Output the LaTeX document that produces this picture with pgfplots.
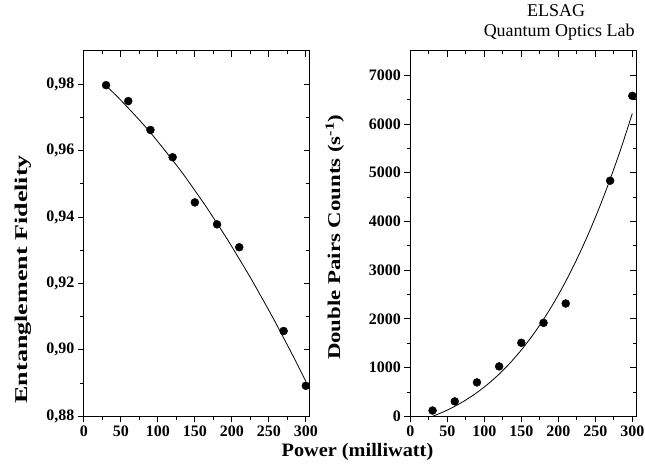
\documentclass[border=0pt]{standalone}
\usepackage{fontspec}
\setmainfont{Liberation Serif}
\usepackage{pgfplots}
\pgfplotsset{compat=1.18}

\pgfplotsset{
  panel/.style={
    scale only axis, width=226pt, height=366pt,
    xmin=0, xmax=305,
    xtick={0,50,...,300}, minor x tick num=1,
    axis line style={line width=1pt},
    every tick/.style={black, line width=0.9pt},
    major tick length=6pt, minor tick length=3.5pt,
    clip=false,
    /pgf/number format/assume math mode=true,
    tick label style={font=\bfseries\fontsize{16}{17}\selectfont},
    label style={font=\bfseries\fontsize{18}{20}\selectfont},
  },
  outer/.style={panel, tick align=outside, xtick pos=left, ytick pos=left},
  inner/.style={panel, tick align=inside, xtick pos=right, ytick pos=right,
    xticklabels={}, yticklabels={}},
  dots/.style={only marks, mark=*, mark size=4pt, black},
  fit/.style={no marks, smooth, black, line width=0.8pt},
}

\begin{document}
\begin{tikzpicture}
% left panel: fidelity
\begin{axis}[outer, ymin=0.88, ymax=0.99,
  ytick={0.88,0.90,...,0.98}, minor y tick num=1,
  yticklabel style={/pgf/number format/.cd, fixed, fixed zerofill, precision=2, use comma},
  ylabel={\scalebox{1.45}[1]{Entanglement Fidelity}},
  ylabel style={at={(axis description cs:-0.27,0.375)}, anchor=center}]
\addplot[dots] coordinates {
  (30,0.9797) (60,0.9749) (90,0.9662) (120,0.9580) (150,0.9444)
  (180,0.9378) (210,0.9309) (270,0.9057) (300,0.8892)};
\addplot[fit] coordinates {
  (30,0.9795) (45,0.9763) (60,0.9728) (75,0.9692) (90,0.9654) (105,0.9613)
  (120,0.9571) (135,0.9527) (150,0.9480) (165,0.9432) (180,0.9381)
  (195,0.9329) (210,0.9274) (225,0.9218) (240,0.9159) (255,0.9099)
  (270,0.9036) (285,0.8972) (300,0.8905)};
\end{axis}
\begin{axis}[inner, ymin=0.88, ymax=0.99,
  ytick={0.88,0.90,...,0.98}, minor y tick num=1]
\end{axis}

% right panel: double pair counts
\begin{axis}[outer, at={(327pt,0pt)}, ymin=0, ymax=7500,
  ytick={0,1000,...,7000}, minor y tick num=1,
  yticklabel style={/pgf/number format/.cd, fixed, 1000 sep={}},
  ylabel={\scalebox{1.27}[1]{Double Pairs Counts (s\textsuperscript{-1})}},
  ylabel style={at={(axis description cs:-0.335,0.49)}, anchor=center}]
\addplot[dots] coordinates {
  (30,120) (60,307) (90,697) (120,1025) (150,1510)
  (180,1919) (210,2316) (270,4836) (300,6578)};
\addplot[fit] coordinates {
  (30,0) (45,94) (60,205) (75,336) (90,488) (105,665) (120,867)
  (135,1099) (150,1362) (165,1658) (180,1990) (195,2360) (210,2771)
  (225,3225) (240,3723) (255,4269) (270,4865) (285,5513) (300,6216)};
\end{axis}
\begin{axis}[inner, at={(327pt,0pt)}, ymin=0, ymax=7500,
  ytick={0,1000,...,7000}, minor y tick num=1]
\end{axis}

\node[font=\bfseries\fontsize{19}{20}\selectfont] at (274pt,-36pt) {\scalebox{1.07}[1]{Power (milliwatt)}};
\node[font=\fontsize{18}{20}\selectfont] at (473pt,406pt) {ELSAG};
\node[font=\fontsize{18}{20}\selectfont] at (476pt,385pt) {Quantum Optics Lab};

\pgfresetboundingbox
\path (-84pt,-56pt) rectangle (562pt,417pt);
\end{tikzpicture}
\end{document}
